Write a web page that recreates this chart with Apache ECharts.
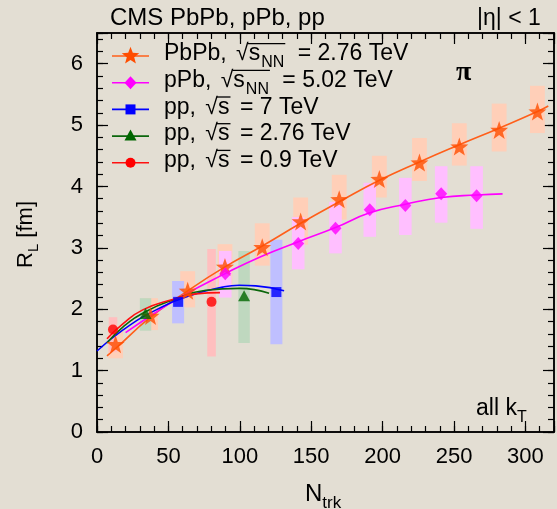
<!DOCTYPE html>
<html><head><meta charset="utf-8">
<script src="https://cdn.jsdelivr.net/npm/echarts@6/dist/echarts.min.js"></script>
<style>html,body{margin:0;padding:0;background:#e3ded3}#c{width:557px;height:509px}</style>
</head><body><div id="c"></div><script>
const SANS = "'Liberation Sans', Arial, sans-serif";
const SERIF = "'Liberation Serif', 'DejaVu Serif', serif";

// PbPb, sqrt(sNN) = 2.76 TeV
const pbpbN  = [13.0, 37.5, 63.5, 89.6, 115.7, 142.6, 169.6, 197.7, 225.8, 253.7, 281.6, 308.4];
const pbpbR  = [1.43, 1.89, 2.30, 2.69, 3.01, 3.43, 3.79, 4.12, 4.39, 4.65, 4.92, 5.22];
const pbpbLo = [1.20, 1.66, 2.03, 2.32, 2.71, 3.05, 3.46, 3.82, 4.09, 4.34, 4.57, 4.87];
const pbpbHi = [1.66, 2.18, 2.62, 3.06, 3.40, 3.82, 4.19, 4.50, 4.79, 5.03, 5.35, 5.64];
const pbpbFitN = [7, 13, 37.5, 63.5, 89.6, 115.7, 142.6, 169.6, 197.7, 225.8, 253.7, 281.6, 308.4, 316];
const pbpbFitR = [1.24, 1.36, 1.87, 2.30, 2.69, 3.03, 3.40, 3.75, 4.10, 4.40, 4.68, 4.95, 5.22, 5.31];

// pPb, sqrt(sNN) = 5.02 TeV
const ppbN  = [89.8, 140.9, 167.0, 191.0, 215.9, 241.0, 265.8];
const ppbR  = [2.58, 3.07, 3.32, 3.62, 3.69, 3.88, 3.85];
const ppbLo = [2.19, 2.65, 2.91, 3.18, 3.21, 3.41, 3.31];
const ppbHi = [2.95, 3.50, 3.75, 4.06, 4.14, 4.33, 4.33];
const ppbFitN = [20, 40, 60, 89.7, 115, 141, 167, 191, 216, 241, 266, 284];
const ppbFitR = [1.62, 1.93, 2.22, 2.58, 2.86, 3.10, 3.33, 3.57, 3.71, 3.82, 3.86, 3.88];

// pp, sqrt(s) = 7 TeV
const pp7N  = [56.8, 125.6];
const pp7R  = [2.12, 2.28];
const pp7Lo = [1.77, 1.43];
const pp7Hi = [2.46, 3.13];
const pp7FitN = [0, 18, 41.4, 64.7, 88, 99.6, 111.2, 131];
const pp7FitR = [1.32, 1.66, 1.99, 2.22, 2.36, 2.39, 2.38, 2.30];

// pp, sqrt(s) = 2.76 TeV
const pp276N  = [34.0, 103.0];
const pp276R  = [1.93, 2.22];
const pp276Lo = [1.65, 1.45];
const pp276Hi = [2.18, 2.95];
const pp276FitN = [7, 18.1, 34, 53, 76.3, 99.6, 120.5];
const pp276FitR = [1.45, 1.71, 1.96, 2.15, 2.31, 2.34, 2.26];

// pp, sqrt(s) = 0.9 TeV
const pp09N  = [11.2, 80.2];
const pp09R  = [1.67, 2.12];
const pp09Lo = [1.30, 1.23];
const pp09Hi = [1.87, 2.98];
const pp09FitN = [7, 18.1, 32, 53, 69.3, 86.1];
const pp09FitR = [1.52, 1.76, 1.99, 2.16, 2.25, 2.27];

const xTicks = [0, 50, 100, 150, 200, 250, 300];
const yTicks = [0, 1, 2, 3, 4, 5, 6];

const STAR = 'path://M0,-10L2.35,-3.24L9.51,-3.09L3.8,1.24L5.88,8.09L0,4.2L-5.88,8.09L-3.8,1.24L-9.51,-3.09L-2.35,-3.24Z';

const sets = [
  {name:'PbPb', N:pbpbN, R:pbpbR, lo:pbpbLo, hi:pbpbHi, fN:pbpbFitN, fR:pbpbFitR,
   mark:'#ff4d00', line:'#ff5f1a', box:'#ffcfb8', hw:5.2, symbol:STAR, size:18},
  {name:'pPb', N:ppbN, R:ppbR, lo:ppbLo, hi:ppbHi, fN:ppbFitN, fR:ppbFitR,
   mark:'#ff00ff', line:'#ff00ff', box:'#ffbfff', hw:4.4, symbol:'diamond', size:[12,13]},
  {name:'pp7', N:pp7N, R:pp7R, lo:pp7Lo, hi:pp7Hi, fN:pp7FitN, fR:pp7FitR,
   mark:'#0000ff', line:'#0000ff', box:'#bfbfff', hw:4.2, symbol:'rect', size:10},
  {name:'pp276', N:pp276N, R:pp276R, lo:pp276Lo, hi:pp276Hi, fN:pp276FitN, fR:pp276FitR,
   mark:'#006600', line:'#0b660b', box:'#bfd8bf', hw:4.0, symbol:'triangle', size:[12,11]},
  {name:'pp09', N:pp09N, R:pp09R, lo:pp09Lo, hi:pp09Hi, fN:pp09FitN, fR:pp09FitR,
   mark:'#ff0000', line:'#ff1010', box:'#ffbfbf', hw:3.0, symbol:'circle', size:10}
];

const zip = (a, b) => a.map((v, i) => [v, b[i]]);

const series = [];
sets.forEach((s, k) => {
  series.push({
    type:'custom', name:s.name + ' syst', z:1 + k, silent:true,
    data: s.N.map((v, i) => [v, s.lo[i], s.hi[i]]),
    encode:{x:0, y:[1, 2]},
    renderItem(params, api) {
      const x = api.value(0);
      const a = api.coord([x - s.hw, api.value(2)]);
      const b = api.coord([x + s.hw, api.value(1)]);
      return {type:'rect', shape:{x:a[0], y:a[1], width:b[0] - a[0], height:b[1] - a[1]},
              style:{fill:s.box}};
    }
  });
});
sets.forEach(s => {
  series.push({type:'line', name:s.name + ' fit', z:10, silent:true, smooth:0.5,
    symbol:'none', data:zip(s.fN, s.fR), lineStyle:{color:s.line, width:1.6}});
});
sets.forEach(s => {
  series.push({type:'scatter', name:s.name, z:20, silent:true, symbol:s.symbol,
    symbolSize:s.size, data:zip(s.N, s.R), itemStyle:{color:s.mark}});
});

function axis(pos, min, max, interval, len, labels) {
  return {
    type:'value', position:pos, min, max, interval,
    axisLine:{show:true, onZero:false, lineStyle:{color:'#000', width:1.5}},
    axisTick:{show:true, inside:true, length:len, lineStyle:{color:'#000', width:1.2}},
    splitLine:{show:false},
    axisLabel: labels ? {show:true, margin:labels, color:'#000', fontSize:22, fontFamily:SANS,
      formatter: v => ((pos === 'bottom' ? xTicks : yTicks).indexOf(v) >= 0 ? String(v) : '')}
      : {show:false}
  };
}

// text helpers: runs of pieces with sub-scripts, gaps and a radical overline
const meas = document.createElement('canvas').getContext('2d');
function tw(t, size, fam) { meas.font = size + 'px ' + fam; return meas.measureText(t).width; }
function run(pieces, x, base, fam) {
  const els = [];
  let cx = x, o0 = null, o1 = null, oy = null;
  pieces.forEach(p => {
    cx += p.gap || 0;
    const f = p.fam || fam;
    const w = tw(p.t, p.size, f);
    const b = base + (p.dy || 0);
    els.push({type:'text', z:100, style:{text:p.t, x:cx, y:b - 0.35 * p.size,
      font:(p.bold ? 'bold ' : '') + p.size + 'px ' + f, fill:'#000',
      textAlign:'left', textVerticalAlign:'middle', align:'left', verticalAlign:'middle'}});
    if (p.root) { o0 = cx + w - 1; oy = base - 0.80 * p.size; }
    if (p.over) { o1 = cx + w + 1; }
    cx += w + (p.after || 0);
  });
  if (o0 !== null && o1 !== null) {
    els.push({type:'line', z:100, shape:{x1:o0, y1:oy, x2:o1, y2:oy},
      style:{stroke:'#000', lineWidth:1.3}});
  }
  return els;
}

const LF = 23;
const legendRows = [
  {k:0, pieces:[{t:'PbPb, ', size:LF}, {t:'\u221A', size:LF, root:true, gap:3}, {t:'s', size:LF, over:true},
                {t:'NN', size:16, dy:6, over:true, gap:1, after:4}, {t:' = 2.76 TeV', size:LF, gap:3}]},
  {k:1, pieces:[{t:'pPb, ', size:LF}, {t:'\u221A', size:LF, root:true, gap:3}, {t:'s', size:LF, over:true},
                {t:'NN', size:16, dy:6, over:true, gap:1, after:4}, {t:' = 5.02 TeV', size:LF, gap:3}]},
  {k:2, pieces:[{t:'pp, ', size:LF}, {t:'\u221A', size:LF, root:true, gap:3}, {t:'s', size:LF, over:true},
                {t:' = 7 TeV', size:LF, gap:4}]},
  {k:3, pieces:[{t:'pp, ', size:LF}, {t:'\u221A', size:LF, root:true, gap:3}, {t:'s', size:LF, over:true},
                {t:' = 2.76 TeV', size:LF, gap:4}]},
  {k:4, pieces:[{t:'pp, ', size:LF}, {t:'\u221A', size:LF, root:true, gap:3}, {t:'s', size:LF, over:true},
                {t:' = 0.9 TeV', size:LF, gap:4}]}
];

function markerEl(k, cx, cy) {
  const s = sets[k];
  const st = {fill:s.mark};
  if (k === 0) {
    const pts = [];
    for (let i = 0; i < 10; i++) {
      const r = i % 2 ? 3.9 : 9.2, a = -Math.PI / 2 + i * Math.PI / 5;
      pts.push([cx + r * Math.cos(a), cy + r * Math.sin(a)]);
    }
    return {type:'polygon', z:101, shape:{points:pts}, style:st};
  }
  if (k === 1) return {type:'polygon', z:101, shape:{points:[[cx, cy - 6.5], [cx + 6, cy], [cx, cy + 6.5], [cx - 6, cy]]}, style:st};
  if (k === 2) return {type:'rect', z:101, shape:{x:cx - 5, y:cy - 5, width:10, height:10}, style:st};
  if (k === 3) return {type:'polygon', z:101, shape:{points:[[cx, cy - 6.5], [cx + 6, cy + 4.5], [cx - 6, cy + 4.5]]}, style:st};
  return {type:'circle', z:101, shape:{cx, cy, r:5}, style:st};
}

const graphics = [];
legendRows.forEach((row, i) => {
  const cy = 56 + i * 26.7;
  graphics.push({type:'line', z:100, shape:{x1:112, y1:cy, x2:149, y2:cy},
    style:{stroke:sets[row.k].line, lineWidth:1.6}});
  graphics.push(markerEl(row.k, 130.5, cy));
  graphics.push(...run(row.pieces, 164, cy + 6, SANS));
});

graphics.push(...run([{t:'CMS PbPb, pPb, pp', size:24}], 110, 26.5, SANS));
graphics.push(...run([{t:'|\u03B7| < 1', size:23}], 477, 26.5, SANS));
graphics.push(...run([{t:'\u03C0', size:28, fam:SERIF, bold:true}], 456, 83, SANS));
graphics.push(...run([{t:'all k', size:23}, {t:'T', size:16, dy:6}], 476, 417, SANS));
graphics.push(...run([{t:'N', size:24}, {t:'trk', size:17, dy:6}], 305, 503, SANS));
graphics.push({type:'group', x:33.5, y:268, rotation:Math.PI / 2,
  children: run([{t:'R', size:22}, {t:'L', size:15, dy:6}, {t:' [fm]', size:22}], 0, 0, SANS)});

const chart = echarts.init(document.getElementById('c'));
chart.setOption({
  animation:false,
  backgroundColor:'#e3ded3',
  grid:{left:97, right:2, top:33, bottom:77, containLabel:false},
  xAxis:[axis('bottom', 0, 320, 50, 11, 14), axis('bottom', 0, 320, 10, 6, 0),
         axis('top', 0, 320, 50, 11, 0), axis('top', 0, 320, 10, 6, 0)],
  yAxis:[axis('left', 0, 6.5, 1, 11, 14), axis('left', 0, 6.5, 0.2, 6, 0),
         axis('right', 0, 6.5, 1, 11, 0), axis('right', 0, 6.5, 0.2, 6, 0)],
  series,
  graphic:{elements:graphics}
});
</script></body></html>
